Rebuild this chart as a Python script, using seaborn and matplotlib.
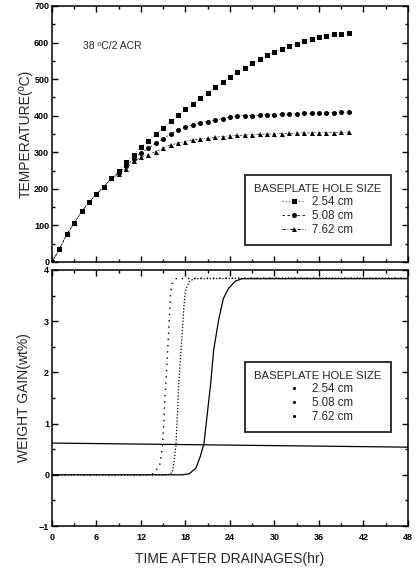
import numpy as np
import pandas as pd
import matplotlib
matplotlib.use("Agg")
import matplotlib.pyplot as plt
from matplotlib.lines import Line2D
from matplotlib.ticker import MultipleLocator
import seaborn as sns

# ---- temperature history (hourly readings) ----
hours = list(range(0, 41))
temp_254 = [0, 35, 76, 106, 139, 163, 186, 206, 229, 248, 272, 292, 315, 332, 350,
            366, 386, 402, 418, 432, 449, 463, 479, 493, 507, 519, 531, 543, 555,
            565, 575, 583, 591, 597, 604, 611, 616, 619, 622, 623, 627]
temp_508 = [0, 35, 76, 106, 139, 163, 186, 206, 229, 243, 262, 282, 298, 311, 325,
            337, 350, 361, 368, 375, 381, 384, 388, 392, 396, 399, 400, 400, 401,
            403, 403, 404, 404, 405, 406, 406, 407, 408, 408, 409, 410]
temp_762 = [0, 35, 76, 106, 139, 163, 186, 206, 229, 240, 255, 275, 286, 293, 302,
            311, 320, 325, 329, 334, 336, 338, 341, 343, 345, 346, 347, 348, 349,
            350, 350, 351, 352, 352, 353, 353, 354, 354, 354, 355, 355]

# ---- weight gain curves ----
t_254 = [0, 5, 10, 13.0, 13.6, 14.5, 14.9, 15.1, 15.6, 16.0, 16.2, 16.7, 20, 30, 40, 48]
w_254 = [0, 0, 0, 0, 0.02, 0.17, 0.56, 1.14, 2.45, 3.57, 3.73, 3.83, 3.84, 3.84, 3.84, 3.84]
t_508 = [0, 10, 15.5, 16.2, 16.5, 16.7, 16.9, 17.1, 17.4, 17.6, 17.8, 18.0, 18.5, 19.1, 30, 48]
w_508 = [0, 0, 0, 0.04, 0.30, 0.56, 1.14, 1.79, 2.44, 2.86, 3.31, 3.60, 3.77, 3.83, 3.84, 3.84]
t_762 = [0, 10, 17.5, 18.5, 19.4, 20.0, 20.5, 20.9, 21.4, 21.8, 22.5, 23.1, 23.8, 24.7, 25.6, 30, 48]
w_762 = [0, 0, 0, 0.02, 0.13, 0.36, 0.62, 1.14, 1.79, 2.44, 3.05, 3.44, 3.64, 3.78, 3.83, 3.83, 3.83]
ref_t = [0, 48]
ref_w = [0.62, 0.54]

sizes = ["2.54 cm", "5.08 cm", "7.62 cm"]
legend_title = "BASEPLATE HOLE SIZE"

sns.set_theme(style="ticks")
plt.rcParams["font.family"] = ["Liberation Sans", "DejaVu Sans"]
plt.rcParams.update({
    "axes.edgecolor": "black", "axes.linewidth": 1.1,
    "xtick.direction": "in", "ytick.direction": "in",
    "xtick.color": "black", "ytick.color": "black",
    "xtick.major.size": 4, "ytick.major.size": 4,
    "xtick.minor.size": 2.5, "ytick.minor.size": 2.5,
    "xtick.major.width": 1.0, "ytick.major.width": 1.0,
    "xtick.labelsize": 6.5, "ytick.labelsize": 6.5,
})

fig = plt.figure(figsize=(4.17, 5.73), dpi=100)
ax1 = fig.add_axes([0.1247, 0.5428, 0.8537, 0.4468])
ax2 = fig.add_axes([0.1247, 0.0820, 0.8537, 0.4468])

# ---- top panel: temperature ----
styles = [("s", (0, (1, 3))), ("o", (0, (3, 3))), ("^", (0, (4, 2, 1, 2)))]
for vals, lab, (mk, ls) in zip([temp_254, temp_508, temp_762], sizes, styles):
    df = pd.DataFrame({"t": hours, "T": vals})
    sns.lineplot(data=df, x="t", y="T", ax=ax1, color="black", lw=0.45,
                 linestyle=ls, marker=mk, markersize=3.6, markeredgewidth=0,
                 legend=False)

ax1.set_xlim(0, 48)
ax1.set_ylim(0, 700)
ax1.xaxis.set_major_locator(MultipleLocator(6))
ax1.xaxis.set_minor_locator(MultipleLocator(3))
ax1.yaxis.set_major_locator(MultipleLocator(100))
ax1.yaxis.set_minor_locator(MultipleLocator(50))
ax1.tick_params(which="both", top=True, right=True, labelbottom=False, pad=2)
ax1.set_xlabel("")
ax1.set_ylabel("TEMPERATURE(\u00baC)", fontsize=10, labelpad=1)
ax1.text(4.2, 590, "38 \u00baC/2 ACR", fontsize=7.5, va="center", ha="left")
for lbl in ax1.get_yticklabels():
    lbl.set_fontweight("bold")

h1 = [Line2D([], [], color="black", lw=0.6, linestyle=ls, marker=mk,
             markersize=3.6, markeredgewidth=0) for mk, ls in styles]
leg1 = ax1.legend(h1, sizes, title=legend_title, loc="lower left",
                  bbox_to_anchor=(0.542, 0.065), fontsize=8.3, title_fontsize=8.2,
                  frameon=True, fancybox=False, handlelength=2.0,
                  borderpad=0.8, labelspacing=0.18, handletextpad=0.6,
                  borderaxespad=0)
leg1.get_frame().set_edgecolor("black")
leg1.get_frame().set_linewidth(1.4)

# ---- bottom panel: weight gain ----
curves = [(t_254, w_254, (0, (1, 3.5)), 1.0),
          (t_508, w_508, (0, (1, 1.5)), 0.9),
          (t_762, w_762, "-", 0.9)]
for t, w, ls, lw in curves:
    df = pd.DataFrame({"t": t, "w": w})
    sns.lineplot(data=df, x="t", y="w", ax=ax2, color="black", lw=lw,
                 linestyle=ls, legend=False)
sns.lineplot(x=ref_t, y=ref_w, ax=ax2, color="black", lw=0.9, legend=False)

ax2.set_xlim(0, 48)
ax2.set_ylim(-1, 4)
ax2.xaxis.set_major_locator(MultipleLocator(6))
ax2.xaxis.set_minor_locator(MultipleLocator(3))
ax2.yaxis.set_major_locator(MultipleLocator(1))
ax2.yaxis.set_minor_locator(MultipleLocator(0.5))
ax2.tick_params(which="both", top=True, right=True, pad=2)
ax2.tick_params(axis="x", pad=5)
ax2.set_xlabel("TIME AFTER DRAINAGES(hr)", fontsize=10, labelpad=7)
ax2.set_ylabel("WEIGHT GAIN(wt%)", fontsize=10, labelpad=6)
for lbl in ax2.get_yticklabels() + ax2.get_xticklabels():
    lbl.set_fontweight("bold")

h2 = [Line2D([], [], color="black", lw=0, marker=".", markersize=2.5) for _ in sizes]
leg2 = ax2.legend(h2, sizes, title=legend_title, loc="lower left",
                  bbox_to_anchor=(0.542, 0.366), fontsize=8.3, title_fontsize=8.2,
                  frameon=True, fancybox=False, handlelength=2.0,
                  borderpad=0.8, labelspacing=0.18, handletextpad=0.6,
                  borderaxespad=0)
leg2.get_frame().set_edgecolor("black")
leg2.get_frame().set_linewidth(1.4)

fig.savefig("out.png", dpi=100, facecolor="white")
